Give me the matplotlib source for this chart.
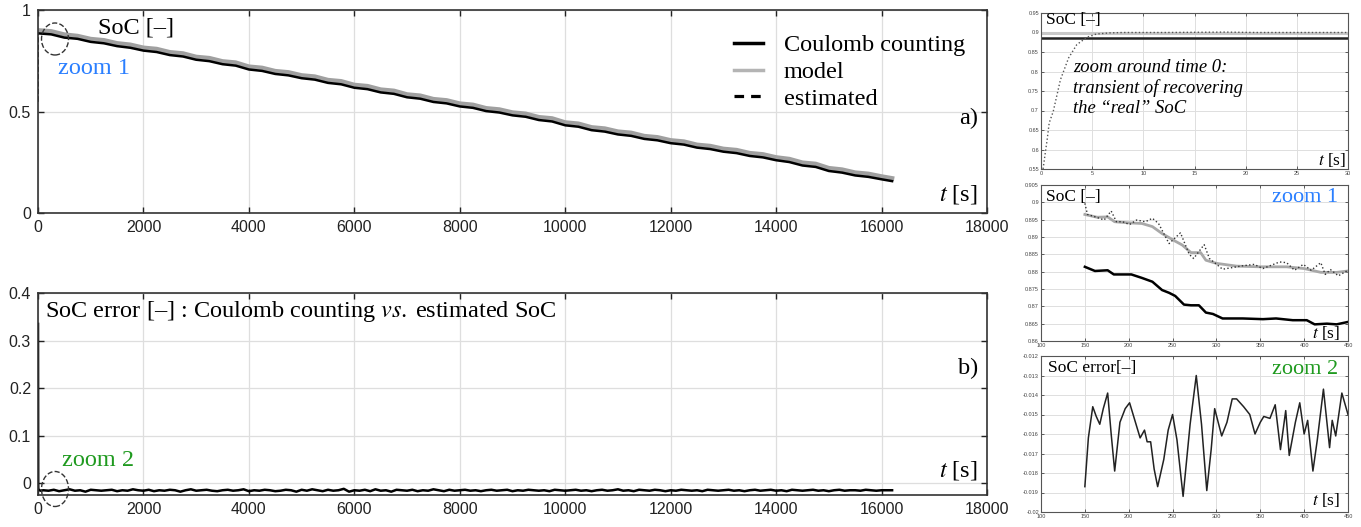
import numpy as np
import matplotlib
matplotlib.use("Agg")
import matplotlib.pyplot as plt
from matplotlib.patches import Ellipse

plt.rcParams['font.family'] = ['Liberation Sans', 'DejaVu Sans']
plt.rcParams['mathtext.fontset'] = 'stix'

W, H = 1361, 527

# --- main run: SoC over the whole test (t in s) ---
t_main = list(range(0, 16001, 250)) + [16200]
soc_cc = [0.885, 0.880, 0.864, 0.858, 0.843, 0.836, 0.822, 0.814, 0.800, 0.793,
          0.778, 0.771, 0.755, 0.748, 0.733, 0.726, 0.707, 0.700, 0.685, 0.678,
          0.664, 0.657, 0.641, 0.634, 0.617, 0.610, 0.594, 0.587, 0.570, 0.563,
          0.547, 0.540, 0.525, 0.518, 0.502, 0.495, 0.481, 0.474, 0.458, 0.451,
          0.432, 0.425, 0.408, 0.401, 0.387, 0.380, 0.365, 0.358, 0.344, 0.337,
          0.322, 0.315, 0.302, 0.295, 0.281, 0.274, 0.260, 0.251, 0.234, 0.227,
          0.207, 0.199, 0.185, 0.178, 0.166, 0.157]
soc_model = [0.900, 0.895, 0.879, 0.872, 0.857, 0.851, 0.836, 0.829, 0.814, 0.808,
             0.792, 0.786, 0.769, 0.763, 0.747, 0.741, 0.721, 0.715, 0.699, 0.693,
             0.678, 0.672, 0.655, 0.649, 0.631, 0.625, 0.608, 0.602, 0.584, 0.578,
             0.561, 0.555, 0.539, 0.533, 0.516, 0.510, 0.495, 0.489, 0.472, 0.466,
             0.446, 0.440, 0.422, 0.416, 0.401, 0.395, 0.379, 0.373, 0.358, 0.352,
             0.336, 0.330, 0.316, 0.310, 0.295, 0.289, 0.274, 0.266, 0.248, 0.242,
             0.221, 0.214, 0.199, 0.193, 0.180, 0.171]

# estimator transient around t=0
t_tr = [0.2, 0.6, 0.8, 1.2, 1.9, 2.7, 3.5, 4.5, 5.4, 6.7, 8, 12, 18, 21, 25, 30]
soc_tr = [0.55, 0.625, 0.668, 0.698, 0.779, 0.835, 0.869, 0.888, 0.896, 0.899,
          0.900, 0.900, 0.901, 0.900, 0.900, 0.900]
soc_cc0 = 0.885
soc_model0 = 0.900

# SoC error (Coulomb counting - estimated), main run
t_err0 = [0, 0.5, 1, 2, 3, 4, 5, 8, 50]
err0 = [0.335, 0.27, 0.195, 0.105, 0.04, 0.0, -0.011, -0.014, -0.016]
t_err = list(range(100, 16201, 100))
err_milli = [
    -15, -16, -14, -17, -15, -13, -16, -15, -18, -14,
    -15, -16, -15, -14, -17, -15, -16, -13, -15, -16,
    -14, -17, -15, -16, -14, -15, -18, -15, -13, -16,
    -15, -14, -16, -17, -15, -14, -16, -15, -13, -17,
    -15, -16, -14, -15, -17, -16, -14, -15, -18, -14,
    -16, -13, -15, -17, -14, -16, -15, -12, -18, -15,
    -16, -14, -17, -13, -16, -15, -18, -14, -15, -16,
    -14, -17, -15, -16, -13, -15, -17, -14, -16, -15,
    -14, -16, -15, -17, -15, -14, -16, -15, -14, -17,
    -15, -16, -14, -15, -16, -15, -17, -14, -15, -16,
    -15, -14, -16, -15, -17, -15, -14, -16, -15, -13,
    -16, -15, -17, -14, -15, -16, -14, -15, -17, -15,
    -16, -14, -15, -16, -15, -17, -14, -15, -16, -15,
    -14, -16, -15, -17, -15, -14, -16, -15, -14, -16,
    -15, -17, -14, -15, -16, -15, -14, -16, -15, -17,
    -15, -14, -16, -15, -15, -16, -14, -15, -16, -15,
    -15, -15]

# zoom 1 : t = 150..450 s
t_z1_cc = [150, 161.5, 176, 183, 203, 215, 227, 238, 246, 253, 263, 271, 280,
           288, 296, 307, 330, 353, 368, 387, 403, 412, 426, 437, 450]
z1_cc = [0.8814, 0.8802, 0.8804, 0.8792, 0.8792, 0.8782, 0.8771, 0.8747, 0.8739,
         0.8730, 0.8705, 0.8703, 0.8703, 0.8682, 0.8678, 0.8665, 0.8665, 0.8663,
         0.8665, 0.8660, 0.8660, 0.8648, 0.8650, 0.8648, 0.8655]
t_z1_model = [150, 164, 176, 184, 199, 215, 227, 238, 253, 261, 271, 282, 288,
              300, 323, 350, 380, 400, 419, 437, 450]
z1_model = [0.8965, 0.8957, 0.8958, 0.8944, 0.8941, 0.8939, 0.8930, 0.8910, 0.8888,
            0.8877, 0.8855, 0.8855, 0.8833, 0.8824, 0.8816, 0.8814, 0.8814, 0.8809,
            0.8798, 0.8798, 0.8802]
t_z1_est = [150, 153, 162, 172, 180, 186, 193, 201, 209, 219, 227, 234, 246, 259,
            269, 274, 286, 292, 307, 330, 343, 353, 372, 380, 389, 399, 408, 419,
            424, 430, 439, 450]
z1_est = [0.8997, 0.8965, 0.8958, 0.8949, 0.8975, 0.8944, 0.8944, 0.8936, 0.8949,
          0.8944, 0.8954, 0.8939, 0.8881, 0.8912, 0.8850, 0.8838, 0.8878, 0.8838,
          0.8807, 0.8817, 0.8821, 0.8809, 0.8828, 0.8826, 0.8804, 0.8821, 0.8804,
          0.8826, 0.8792, 0.8806, 0.8788, 0.8804]

# zoom 2 : SoC error, t = 150..450 s
t_z2 = [150, 154, 159, 163, 167, 171, 176, 180, 184, 190, 196, 201, 207, 213,
        218, 221, 225, 229, 233, 240, 245, 250, 255, 262, 270, 277, 283, 289,
        294, 298, 306, 312, 318, 323, 331, 338, 344, 350, 354, 361, 367, 373,
        379, 383, 390, 395, 400, 404, 410, 415, 422, 429, 432, 436, 443, 450]
z2_err = [-0.0187, -0.0162, -0.0146, -0.0151, -0.0155, -0.0147, -0.0139, -0.0160,
          -0.0179, -0.0154, -0.0147, -0.0144, -0.0153, -0.0162, -0.0158, -0.0164,
          -0.0164, -0.0178, -0.0187, -0.0173, -0.0158, -0.0150, -0.0163, -0.0192,
          -0.0155, -0.0130, -0.0155, -0.0189, -0.0168, -0.0147, -0.0161, -0.0154,
          -0.0142, -0.0142, -0.0146, -0.0150, -0.0160, -0.0154, -0.0151, -0.0152,
          -0.0145, -0.0168, -0.0148, -0.0171, -0.0154, -0.0144, -0.0160, -0.0153,
          -0.0179, -0.0163, -0.0137, -0.0167, -0.0153, -0.0161, -0.0139, -0.0150]

SERIF = ['Liberation Serif', 'DejaVu Serif']


def px(x, y):
    return x / W, 1 - y / H


def ftext(x, y, s, size=17.5, ha='left', va='center', **kw):
    fig.text(*px(x, y), s, fontsize=size, ha=ha, va=va, family=SERIF, **kw)


def style_main(ax):
    for sp in ax.spines.values():
        sp.set_color('#333333')
        sp.set_linewidth(1.2)
    ax.tick_params(direction='in', length=4, width=1, top=True, right=True,
                   labelsize=11.5, colors='#222222', pad=5)
    ax.grid(True, color='#dedede', lw=0.9)
    ax.set_axisbelow(True)


def style_small(ax):
    for sp in ax.spines.values():
        sp.set_color('#555555')
        sp.set_linewidth(0.8)
    ax.tick_params(direction='in', length=2.5, width=0.6, top=True, right=True,
                   labelsize=4, colors='#444444', pad=1.5)
    ax.grid(True, color='#dedede', lw=0.7)
    ax.set_axisbelow(True)


fig = plt.figure(figsize=(W / 100, H / 100), dpi=100)

# ---------- a) SoC ----------
ax1 = fig.add_axes([38 / W, 1 - 213 / H, 949 / W, 203 / H])
est_t = [0] + t_tr[:11] + t_main[1:]
est_v = [0.55] + soc_tr[:11] + soc_model[1:]
ax1.plot(est_t, est_v, color='black', ls='--', lw=1.0, label='estimated')
ax1.plot(t_main, soc_model, color='#a0a0a0', lw=3.2, label='model')
ax1.plot(t_main, soc_cc, color='black', lw=1.8, label='Coulomb counting')
ax1.set_xlim(0, 18000)
ax1.set_ylim(0, 1)
ax1.set_xticks(np.arange(0, 18001, 2000))
ax1.set_yticks([0, 0.5, 1])
ax1.set_yticklabels(['0', '0.5', '1'])
style_main(ax1)
h, l = ax1.get_legend_handles_labels()
leg = ax1.legend(h[::-1], l[::-1], loc='upper left', frameon=False,
                 bbox_to_anchor=px(722, 22), bbox_transform=fig.transFigure,
                 prop={'family': SERIF, 'size': 17.5}, borderpad=0,
                 labelspacing=0.2, handlelength=1.2, handletextpad=0.85)
leg_lines = leg.get_lines()
leg_lines[0].set_linewidth(2.5)
leg_lines[1].set_color('#b4b4b4')
leg_lines[1].set_linewidth(2.5)
leg_lines[2].set_linewidth(2.3)
leg_lines[2].set_dashes((3, 2.2))

# ---------- b) SoC error ----------
ax2 = fig.add_axes([38 / W, 1 - 495 / H, 949 / W, 202 / H])
ax2.plot(t_err0 + t_err, err0 + [v / 1000 for v in err_milli], color='black', lw=1.8)
ax2.set_xlim(0, 18000)
ax2.set_ylim(-0.025, 0.4)
ax2.set_xticks(np.arange(0, 18001, 2000))
ax2.set_yticks([0, 0.1, 0.2, 0.3, 0.4])
ax2.set_yticklabels(['0', '0.1', '0.2', '0.3', '0.4'])
style_main(ax2)

# ---------- right: transient near t=0 ----------
ax3 = fig.add_axes([1041 / W, 1 - 169 / H, 307 / W, 156 / H])
ax3.plot([0, 30], [soc_model0, soc_model0], color='#c8c8c8', lw=2.2)
ax3.plot([0, 30], [soc_cc0, soc_cc0], color='#222222', lw=1.8)
ax3.plot(t_tr, soc_tr, color='#555555', ls=':', lw=1.0)
ax3.set_xlim(0, 30)
ax3.set_ylim(0.55, 0.95)
ax3.set_xticks(np.arange(0, 31, 5))
ax3.set_yticks(np.arange(0.55, 0.951, 0.05))
ax3.set_yticklabels(['0.55', '0.6', '0.65', '0.7', '0.75', '0.8', '0.85', '0.9', '0.95'])
style_small(ax3)

# ---------- right: zoom 1 ----------
ax4 = fig.add_axes([1041 / W, 1 - 341 / H, 307 / W, 156 / H])
ax4.plot(t_z1_model, z1_model, color='#a8a8a8', lw=2.0)
ax4.plot(t_z1_est, z1_est, color='#333333', ls=':', lw=1.0)
ax4.plot(t_z1_cc, z1_cc, color='black', lw=1.8)
ax4.set_xlim(100, 450)
ax4.set_ylim(0.86, 0.905)
ax4.set_xticks(np.arange(100, 451, 50))
ax4.set_yticks(np.arange(0.86, 0.9051, 0.005))
ax4.set_yticklabels(['0.86', '0.865', '0.87', '0.875', '0.88', '0.885',
                     '0.89', '0.895', '0.9', '0.905'])
style_small(ax4)

# ---------- right: zoom 2 ----------
ax5 = fig.add_axes([1041 / W, 1 - 512 / H, 307 / W, 156 / H])
ax5.plot(t_z2, z2_err, color='#222222', lw=1.1)
ax5.set_xlim(100, 450)
ax5.set_ylim(-0.02, -0.012)
ax5.set_xticks(np.arange(100, 451, 50))
ax5.set_yticks(np.arange(-0.02, -0.01199, 0.001))
ax5.set_yticklabels(['-0.02', '-0.019', '-0.018', '-0.017', '-0.016', '-0.015',
                     '-0.014', '-0.013', '-0.012'])
style_small(ax5)

# ---------- annotations ----------
blue = '#2a7fff'
green = '#1f9a1f'
ftext(98, 28, 'SoC [–]')
ftext(58, 68, 'zoom 1', color=blue)
ftext(978, 118, 'a)', ha='right')
ftext(978, 195, r'$t$ [s]', ha='right')
ftext(45, 312, r'SoC error [–] : Coulomb counting $\mathit{vs.}\;$estimated SoC')
ftext(978, 368, 'b)', ha='right')
ftext(978, 470, r'$t$ [s]', ha='right')
ftext(62, 460, 'zoom 2', color=green)

ftext(1046, 20, 'SoC [–]', size=12.5)
fig.text(*px(1073, 59), 'zoom around time 0:\ntransient of recovering\nthe \u201creal\u201d SoC',
         fontsize=13.4, family=SERIF, style='italic', ha='left', va='top',
         linespacing=1.22)
ftext(1346, 160, r'$t$ [s]', size=12.5, ha='right')

ftext(1046, 197, 'SoC [–]', size=12.5)
ftext(1338, 198, 'zoom 1', size=16, ha='right', color=blue)
ftext(1340, 333, r'$t$ [s]', size=12.5, ha='right')

ftext(1048, 368, 'SoC error[–]', size=12.5)
ftext(1338, 369, 'zoom 2', size=16, ha='right', color=green)
ftext(1340, 500, r'$t$ [s]', size=12.5, ha='right')

for cx, cy, ew, eh in [(55, 39, 27, 32), (55, 489, 27, 35)]:
    e = Ellipse(px(cx, cy), ew / W, eh / H, transform=fig.transFigure,
                fill=False, ls='--', lw=1.0, color='#333333')
    fig.add_artist(e)

fig.savefig('out.png', dpi=100)
